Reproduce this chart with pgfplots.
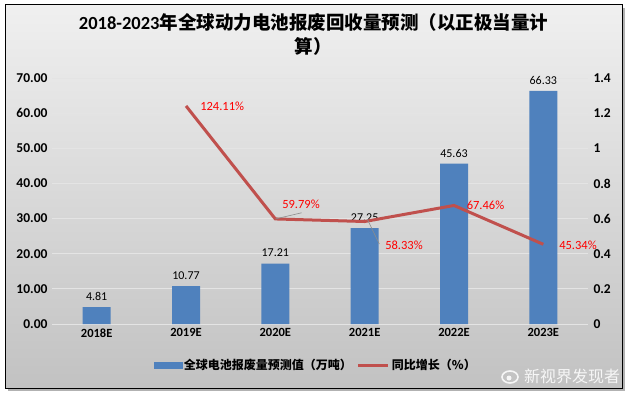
\documentclass[border=0pt]{standalone}
\usepackage{pgfplots}
\pgfplotsset{compat=1.18}
\usepackage{fontspec}
\setmainfont{Carlito}
\newfontfamily\cjk{Noto Sans CJK SC}
\definecolor{barblue}{HTML}{4F81BD}
\definecolor{linered}{HTML}{C0504D}
\definecolor{lblred}{HTML}{FF0000}
\definecolor{gridc}{HTML}{E4E4E4}
\begin{document}
\begin{tikzpicture}[x=1pt,y=1pt]
\path[use as bounding box] (0,0) rectangle (627,392);
\fill[black!30] (8,1) rectangle (625,384);
\shade[top color=black!6, bottom color=black!24] (5,4) rectangle (622,387);
\draw[black, line width=1pt] (5,4) rectangle (622,387);
\node[align=center, font=\bfseries\fontsize{18.5}{24}\selectfont] at (313.5,358) {2018-2023{\cjk 年全球动力电池报废回收量预测（以正极当量计}\\{\cjk 算）}};
\begin{axis}[at={(52pt,68pt)}, anchor=south west, scale only axis,
  width=536pt, height=246pt,
  xmin=-0.5, xmax=5.5, ymin=0, ymax=70,
  ytick={0,10,20,30,40,50,60,70},
  xtick={0,1,2,3,4,5},
  xticklabels={2018E,2019E,2020E,2021E,2022E,2023E},
  axis line style={draw=none}, major tick length=0pt,
  ymajorgrids, grid style={gridc, line width=0.8pt},
  /pgf/number format/assume math mode=true,
  yticklabel style={/pgf/number format/fixed, /pgf/number format/fixed zerofill, /pgf/number format/precision=2, font=\bfseries\fontsize{13.5}{15}\selectfont, xshift=-1pt},
  xticklabel style={font=\bfseries\fontsize{12.5}{14}\selectfont, yshift=-1pt},
]
\addplot[ybar, bar width=28pt, fill=barblue, draw=none,
  nodes near coords,
  nodes near coords style={font=\fontsize{12}{13}\selectfont, text=black, /pgf/number format/fixed, /pgf/number format/fixed zerofill, /pgf/number format/precision=2, yshift=3pt}]
  coordinates {(0,4.81) (1,10.77) (2,17.21) (3,27.25) (4,45.63) (5,66.33)};
\end{axis}
\begin{axis}[at={(52pt,68pt)}, anchor=south west, scale only axis,
  width=536pt, height=246pt, clip=false,
  xmin=-0.5, xmax=5.5, ymin=0, ymax=1.4,
  axis y line*=right, hide x axis,
  ytick={0,0.2,0.4,0.6,0.8,1,1.2,1.4},
  axis line style={draw=none}, major tick length=0pt,
  /pgf/number format/assume math mode=true,
  yticklabel style={/pgf/number format/fixed, /pgf/number format/precision=1, font=\bfseries\fontsize{13.5}{15}\selectfont, xshift=2pt},
  legend style={draw=none, fill=none, at={(0.492,-0.167)}, anchor=center,
    font=\cjk\bfseries\fontsize{12}{14}\selectfont, legend columns=2,
    /tikz/every even column/.append style={column sep=3pt}},
]
\addlegendimage{legend image code/.code={\fill[barblue] (0pt,-3pt) rectangle (28pt,3pt);}}
\addlegendentry{全球电池报废量预测值（万吨）}
\addplot[linered, line width=3pt, mark=none,
  legend image code/.code={\draw[line width=3pt, linered] (0pt,0pt) -- (30pt,0pt);}]
  coordinates {(1,1.2411) (2,0.5979) (3,0.5833) (4,0.6746) (5,0.4534)};
\addlegendentry{同比增长（\%）}
\draw[black!45, line width=0.6pt] (axis cs:2,0.5979) -- (axis cs:2.295,0.633);
\draw[black!45, line width=0.6pt] (axis cs:3.03,0.596) -- (axis cs:3.164,0.455);
\begin{scope}[every node/.style={font=\fontsize{12.5}{14}\selectfont, text=lblred}]
\node[anchor=west] at (axis cs:1.12,1.2411) {124.11\%};
\node at (axis cs:2.287,0.683) {59.79\%};
\node at (axis cs:3.44,0.450) {58.33\%};
\node at (axis cs:4.353,0.677) {67.46\%};
\node at (axis cs:5.388,0.450) {45.34\%};
\end{scope}
\end{axis}
\draw[white, line width=1.6pt, opacity=0.85] (510,15) ellipse (8pt and 6pt);
\fill[white, opacity=0.85] (509,14) circle (2.5pt);
\node[text=white, opacity=0.85, font=\cjk\fontsize{16}{16}\selectfont] at (572,16) {新视界发现者};
\end{tikzpicture}
\end{document}
